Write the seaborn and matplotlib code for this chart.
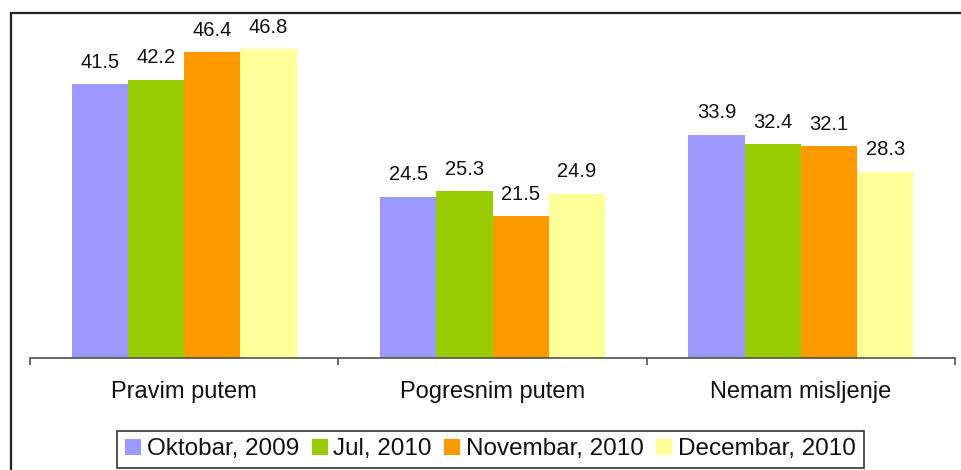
import matplotlib
matplotlib.use("Agg")
import matplotlib.pyplot as plt
import seaborn as sns
import pandas as pd
from matplotlib.patches import Rectangle

categories = ["Pravim putem", "Pogresnim putem", "Nemam misljenje"]
periods = ["Oktobar, 2009", "Jul, 2010", "Novembar, 2010", "Decembar, 2010"]
oktobar_2009 = [41.5, 24.5, 33.9]
jul_2010 = [42.2, 25.3, 32.4]
novembar_2010 = [46.4, 21.5, 32.1]
decembar_2010 = [46.8, 24.9, 28.3]
colors = ["#9999FF", "#99CC00", "#FF9900", "#FFFF99"]

series = [oktobar_2009, jul_2010, novembar_2010, decembar_2010]
rows = []
for p, vals in zip(periods, series):
    for c, v in zip(categories, vals):
        rows.append({"category": c, "period": p, "value": v})
df = pd.DataFrame(rows)

sns.set_style("white")
plt.rcParams["font.family"] = ["Liberation Sans", "DejaVu Sans"]

W, H = 961, 470
fig = plt.figure(figsize=(W / 100, H / 100), dpi=100)
ax_left, ax_right = 30 / W, 955 / W
ax_bottom = (H - 358.3) / H
ax_top = (H - 28.3) / H
ax = fig.add_axes([ax_left, ax_bottom, ax_right - ax_left, ax_top - ax_bottom])

sns.barplot(data=df, x="category", y="value", hue="period", order=categories,
            hue_order=periods, palette=colors, width=0.73, saturation=1,
            linewidth=0, ax=ax)

ax.set_xlim(-0.5, 2.5)
ax.set_ylim(0, 50)
ax.set_xlabel("")
ax.set_ylabel("")
ax.set_yticks([])

for cont in ax.containers:
    ax.bar_label(cont, fmt="%.1f", padding=9, fontsize=14.5, color="#111111")

for s in ["top", "left", "right"]:
    ax.spines[s].set_visible(False)
ax.spines["bottom"].set_color("#505050")
ax.spines["bottom"].set_linewidth(1.2)

ax.set_xticks([-0.5, 0.5, 1.5, 2.5])
ax.set_xticklabels([])
ax.tick_params(axis="x", which="major", bottom=True, length=5.3, width=1.2,
               color="#505050", direction="out")
ax.set_xticks([0, 1, 2], minor=True)
ax.set_xticklabels(categories, minor=True, fontsize=17, color="#111111")
ax.tick_params(axis="x", which="minor", bottom=True, length=0, pad=16.5)

handles, labels = ax.get_legend_handles_labels()
if ax.get_legend() is not None:
    ax.get_legend().remove()
leg = fig.legend(handles, labels, loc="center", bbox_to_anchor=(490.5 / W, 1 - 449.5 / H),
                 bbox_transform=fig.transFigure, ncol=4, fontsize=17.5, frameon=True,
                 fancybox=False, shadow=False, handlelength=0.66, handleheight=0.6,
                 handletextpad=0.24, columnspacing=0.5, borderpad=0.32, borderaxespad=0)
leg.get_frame().set_edgecolor("#000000")
leg.get_frame().set_linewidth(1.2)
for t in leg.get_texts():
    t.set_color("#111111")

frame = Rectangle((10.7 / W, -0.05), 1.1, 1 - 13.3 / H + 0.05, transform=fig.transFigure,
                  fill=False, edgecolor="#222222", linewidth=1.6, clip_on=False)
fig.patches.append(frame)

fig.savefig("out.png", dpi=100)
